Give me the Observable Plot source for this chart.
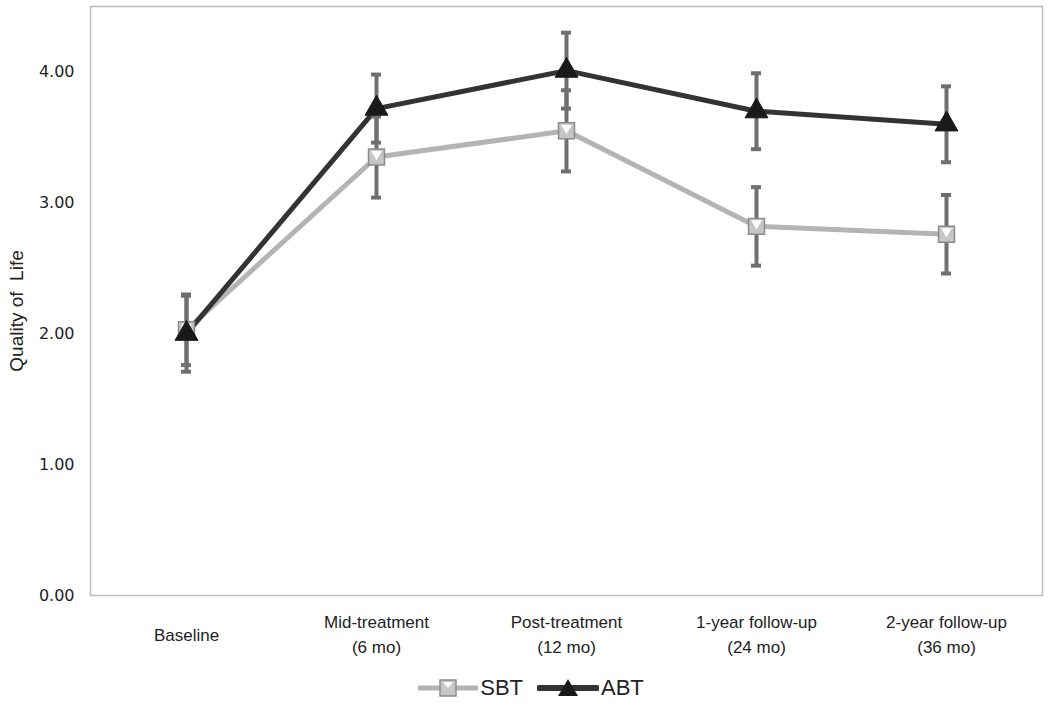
<!DOCTYPE html>
<html>
<head>
<meta charset="utf-8">
<script src="https://cdn.jsdelivr.net/npm/d3@7"></script>
<script src="https://cdn.jsdelivr.net/npm/@observablehq/plot@0.6"></script>
<style>
  body { margin: 0; background: #fff; }
  #chart { width: 1050px; }
  #legend { display: flex; justify-content: center; align-items: center; gap: 14px;
    font-family: "Liberation Sans", Arial, sans-serif; font-size: 22px; color: #222;
    margin-left: 12px; margin-top: 15px; }
  .item { display: flex; align-items: center; gap: 2px; }
</style>
</head>
<body>
<div id="chart"></div>
<div id="legend"></div>
<script>
const categories = ["Baseline", "Mid-treatment\n(6 mo)", "Post-treatment\n(12 mo)", "1-year follow-up\n(24 mo)", "2-year follow-up\n(36 mo)"];
const sbtMean = [2.03, 3.35, 3.55, 2.82, 2.76];
const sbtErr  = [0.27, 0.31, 0.31, 0.30, 0.30];
const abtMean = [2.00, 3.72, 4.01, 3.70, 3.60];
const abtErr  = [0.29, 0.26, 0.29, 0.29, 0.29];
const yTicks = [0, 1, 2, 3, 4];

const sbt = categories.map((c, i) => ({cat: c, v: sbtMean[i], e: sbtErr[i]}));
const abt = categories.map((c, i) => ({cat: c, v: abtMean[i], e: abtErr[i]}));
const both = [...sbt, ...abt];

const errColor = "#6f6f6f";
const font = "'Liberation Sans Narrow', 'Liberation Sans', Arial, sans-serif";

const plot = Plot.plot({
  width: 1050,
  height: 660,
  marginLeft: 90,
  marginRight: 8,
  marginTop: 6,
  marginBottom: 65,
  style: {fontFamily: "'DejaVu Sans', Verdana, sans-serif", fontSize: "16px", color: "#222", background: "#fff"},
  x: {domain: categories, padding: 0, axis: null},
  y: {domain: [0, 4.5]},
  marks: [
    Plot.frame({stroke: "#bdbdbd", strokeWidth: 1.5}),
    Plot.axisY(yTicks, {tickSize: 0, tickPadding: 16, tickFormat: d3.format(".2f"),
      fontSize: 16, label: null}),
    Plot.text(["Quality of\u00a0 Life"], {frameAnchor: "left", textAnchor: "middle", dx: -74, dy: 10, rotate: -90,
      text: d => d, fontSize: 19, fontFamily: "'Liberation Sans', Arial, sans-serif", fill: "#222"}),
    Plot.text(categories, {x: d => d, frameAnchor: "bottom", dy: 37, lineAnchor: "middle",
      text: d => d, fontSize: 17, fontFamily: font, lineHeight: 1.5, fill: "#222"}),
    Plot.line(sbt, {x: "cat", y: "v", stroke: "#b4b4b4", strokeWidth: 5}),
    Plot.line(abt, {x: "cat", y: "v", stroke: "#333333", strokeWidth: 5}),
    Plot.ruleX(both, {x: "cat", y1: d => d.v - d.e, y2: d => d.v + d.e, stroke: errColor, strokeWidth: 4}),
    Plot.tickY(both, {x: "cat", y: d => d.v + d.e, stroke: errColor, strokeWidth: 4, inset: 90}),
    Plot.tickY(both, {x: "cat", y: d => d.v - d.e, stroke: errColor, strokeWidth: 4, inset: 90}),
    Plot.dot(sbt, {x: "cat", y: "v", symbol: "square", r: 9, fill: "#c6c6c6", stroke: "#8a8a8a", strokeWidth: 1.5}),
    Plot.dot(sbt, {x: "cat", y: "v", symbol: "triangle", rotate: 180, r: 4, dy: -3, fill: "#ffffff", stroke: "none"}),
    Plot.dot(abt, {x: "cat", y: "v", symbol: "triangle", r: 8.5, fill: "#1a1a1a", stroke: "#1a1a1a", strokeWidth: 1})
  ]
});
document.getElementById("chart").appendChild(plot);

const legend = document.getElementById("legend");
legend.innerHTML = `
  <div class="item">
    <svg width="60" height="24"><line x1="0" y1="12" x2="60" y2="12" stroke="#b4b4b4" stroke-width="5"/>
      <rect x="22" y="4" width="16" height="16" fill="#c6c6c6" stroke="#8a8a8a" stroke-width="1.5"/>
      <path d="M25,6 L35,6 L30,12 Z" fill="#fff"/></svg>
    <span>SBT</span>
  </div>
  <div class="item">
    <svg width="62" height="24"><line x1="2" y1="12" x2="60" y2="12" stroke="#333" stroke-width="6" stroke-linecap="round"/>
      <path d="M31,3 L41,20 L21,20 Z" fill="#1a1a1a"/></svg>
    <span>ABT</span>
  </div>`;
</script>
</body>
</html>
